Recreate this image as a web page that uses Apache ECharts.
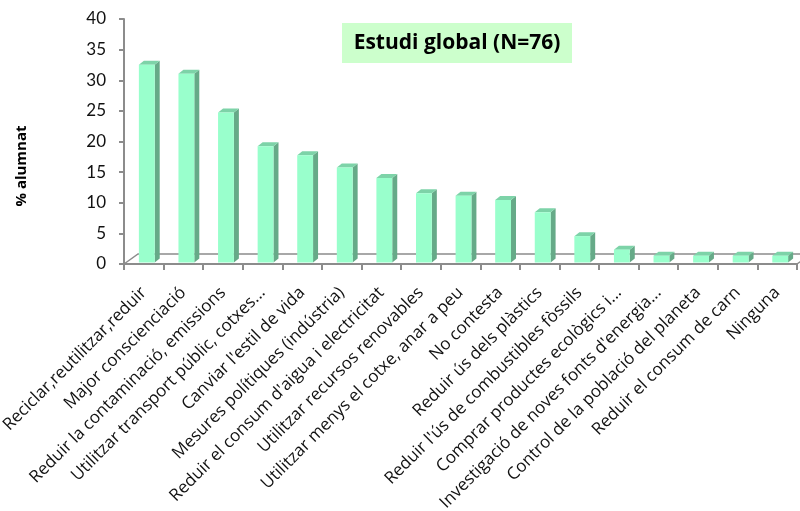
<!DOCTYPE html>
<html>
<head>
<meta charset="utf-8">
<script src="https://cdn.jsdelivr.net/npm/echarts@6/dist/echarts.min.js"></script>
<style>
  html, body { margin: 0; padding: 0; background: #fff; }
  #chart { width: 800px; height: 511px; }
</style>
</head>
<body>
<div id="chart"></div>
<script>
// Proposed actions and share of students (%)
const categories = [
  "Reciclar,reutilitzar,reduir",
  "Major conscienciació",
  "Reduir la contaminació, emissions",
  "Utilitzar transport públic, cotxes...",
  "Canviar l'estil de vida",
  "Mesures polítiques (indústria)",
  "Reduir el consum d'aigua i electricitat",
  "Utilitzar recursos renovables",
  "Utilitzar menys el cotxe, anar a peu",
  "No contesta",
  "Reduir ús dels plàstics",
  "Reduir l'ús de combustibles fòssils",
  "Comprar productes ecològics i...",
  "Investigació de noves fonts d'energia...",
  "Control de la població del planeta",
  "Reduir el consum de carn",
  "Ninguna"
];
const values = [32.3, 30.8, 24.5, 19.0, 17.5, 15.5, 13.8, 11.3, 10.9, 10.2, 8.2, 4.3, 2.1, 1.1, 1.1, 1.1, 1.1];
const yTicks = [0, 5, 10, 15, 20, 25, 30, 35, 40];

const titleText = "Estudi global (N=76)";
const yName = "% alumnat";

const FONT = "Lato, 'Open Sans', sans-serif";
const WIDE_FONT = "'Open Sans', Lato, sans-serif";
const AXIS_GREY = "#8c8c8c";

const chart = echarts.init(document.getElementById("chart"), null, { renderer: "canvas" });

// Extruded column: front face, right side and top
function renderColumn(params, api) {
  const idx = api.value(0);
  const v = api.value(1);
  const base = api.coord([idx, 0]);
  const top = api.coord([idx, v]);
  const band = api.size([1, 0])[0];
  const w = band * 0.4;
  const lift = 1.5;
  const dx = 5, dy = -4;
  const x0 = base[0] - w / 2 + 3;
  const x1 = x0 + w;
  const yb = base[1] - lift;
  const yt = top[1] - lift;
  return {
    type: "group",
    children: [
      { type: "polygon", shape: { points: [[x1, yt], [x1 + dx, yt + dy], [x1 + dx, yb + dy], [x1, yb]] },
        style: { fill: "#66aa88" } },
      { type: "polygon", shape: { points: [[x0, yt], [x0 + dx, yt + dy], [x1 + dx, yt + dy], [x1, yt]] },
        style: { fill: "#7dd3a8" } },
      { type: "rect", shape: { x: x0, y: yt, width: w, height: yb - yt },
        style: { fill: "#99ffcc" } }
    ]
  };
}

// Floor outline behind the columns
function renderFloor(params, api) {
  const cs = params.coordSys;
  const y0 = cs.y + cs.height;
  const xl = cs.x, xr = cs.x + cs.width;
  const ddx = 14, ddy = -10;
  return {
    type: "polyline",
    silent: true,
    shape: { points: [[xl, y0], [xl + ddx, y0 + ddy], [xr + ddx, y0 + ddy], [xr, y0]] },
    style: { stroke: AXIS_GREY, lineWidth: 1.5, fill: null }
  };
}

const option = {
  backgroundColor: "#ffffff",
  animation: false,
  grid: {
    left: 124, right: 3, top: 19, bottom: 247,
    containLabel: false,
    outerBoundsMode: "none"
  },
  xAxis: {
    type: "category",
    data: categories,
    boundaryGap: true,
    axisLine: { show: true, lineStyle: { color: AXIS_GREY, width: 2 } },
    axisTick: { show: true, interval: 0, length: 6, lineStyle: { color: AXIS_GREY, width: 2 } },
    axisLabel: {
      interval: 0, rotate: 45, margin: 26,
      fontFamily: WIDE_FONT, fontSize: 17, color: "#111"
    },
    splitLine: { show: false }
  },
  yAxis: {
    type: "value",
    min: yTicks[0],
    max: yTicks[yTicks.length - 1],
    interval: yTicks[1] - yTicks[0],
    axisLine: { show: true, lineStyle: { color: AXIS_GREY, width: 2 } },
    axisTick: { show: true, length: 5, lineStyle: { color: AXIS_GREY, width: 2 } },
    axisLabel: { margin: 18, fontFamily: FONT, fontSize: 17, color: "#111" },
    splitLine: { show: false }
  },
  graphic: [
    { type: "rect", left: 342, top: 23, shape: { width: 230, height: 40 },
      style: { fill: "#ccffcc" }, z: 10 },
    { type: "text", x: 457, y: 43.5, z: 11,
      style: { text: titleText, align: "center", verticalAlign: "middle",
               font: "bold 21px " + WIDE_FONT, fill: "#000" } },
    { type: "text", x: 22, y: 166, rotation: Math.PI / 2, z: 11,
      style: { text: yName, align: "center", verticalAlign: "middle",
               font: "bold 15px " + WIDE_FONT, fill: "#000" } }
  ],
  series: [
    { type: "custom", name: "floor", renderItem: renderFloor, data: [[0]], z: 1, silent: true },
    {
      type: "custom",
      name: "% alumnat",
      renderItem: renderColumn,
      encode: { x: 0, y: 1 },
      data: values.map((v, i) => [i, v]),
      z: 2
    }
  ]
};

chart.setOption(option);
</script>
</body>
</html>
